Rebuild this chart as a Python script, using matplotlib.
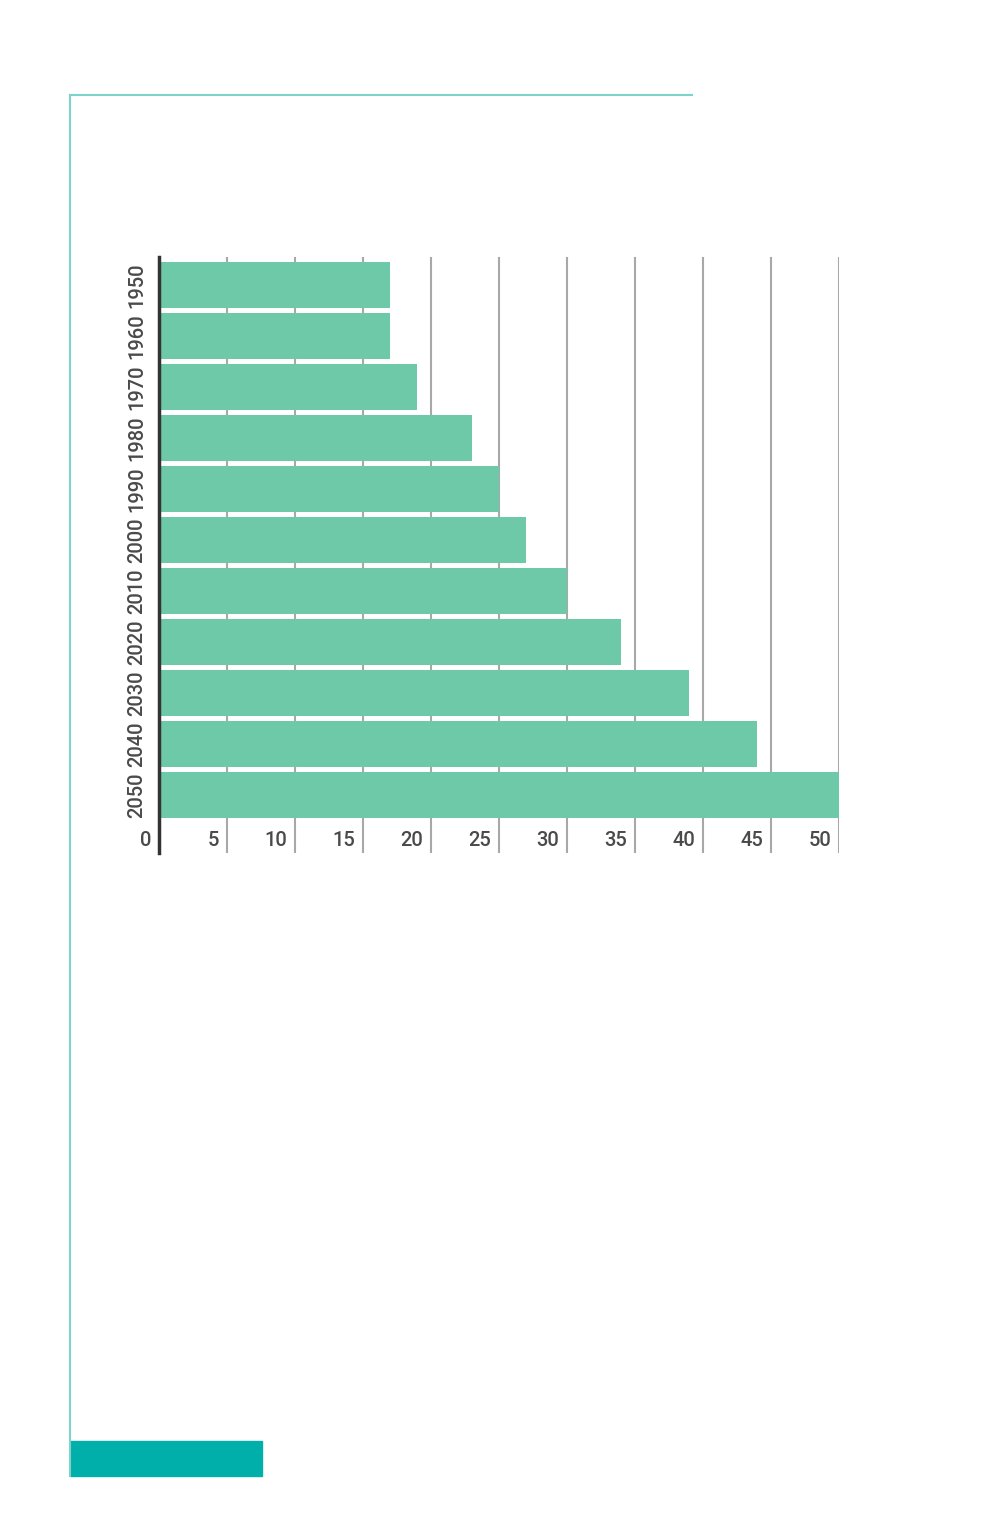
import matplotlib.pyplot as plt
from matplotlib.lines import Line2D
from matplotlib.patches import Rectangle
import matplotlib.transforms as mtransforms

plt.rcParams['font.family'] = ['Roboto', 'DejaVu Sans']

years = ['1950', '1960', '1970', '1980', '1990', '2000',
         '2010', '2020', '2030', '2040', '2050']
values = [17, 17, 19, 23, 25, 27, 30, 34, 39, 44, 50]
xticks = [0, 5, 10, 15, 20, 25, 30, 35, 40, 45, 50]

W, H = 995, 1537
fig = plt.figure(figsize=(W / 100, H / 100), dpi=100)

# axes in pixel box: left 159, right 839, top 257, bottom 853
ax = fig.add_axes([159 / W, 1 - 853 / H, (839 - 159) / W, (853 - 257) / H])

bar_color = '#6dc9a8'
label_color = '#4a4a4a'
pos = list(range(len(years)))
ax.barh(pos, values, height=0.9, color=bar_color, zorder=3)

ax.set_xlim(0, 50)
row_px = 51.0
top = -0.5 - 2.5 / row_px
ax.set_ylim(top + (853 - 257) / row_px, top)

ax.set_xticks(xticks)
ax.xaxis.grid(True, color='#a8a8a8', linewidth=1.5, zorder=0)
ax.tick_params(axis='x', length=0, labelbottom=False)

ax.set_yticks(pos)
ax.set_yticklabels(years, rotation=90, va='center', ha='right', fontweight='medium')
ax.tick_params(axis='y', length=0, pad=9, labelsize=14.5, labelcolor=label_color)

for s in ['top', 'right', 'bottom']:
    ax.spines[s].set_visible(False)
ax.spines['left'].set_color('#333333')
ax.spines['left'].set_linewidth(2.5)
ax.spines['left'].set_zorder(5)

# x tick labels sit just left of each grid line near the bottom
trans = mtransforms.blended_transform_factory(ax.transData, ax.transAxes)
offset = mtransforms.ScaledTranslation(-8 / 100, 0, fig.dpi_scale_trans)
for t in xticks:
    ax.text(t, (853 - 841) / (853 - 257), str(t), transform=trans + offset,
            ha='right', va='center', fontsize=14.5, fontweight='medium',
            color=label_color)

# decorative frame
frame_color = '#7dd3cb'
fig.add_artist(Line2D([70 / W, 692 / W], [1 - 95 / H, 1 - 95 / H],
                      color=frame_color, linewidth=1.5))
fig.add_artist(Line2D([70 / W, 70 / W], [1 - 95 / H, 1 - 1476 / H],
                      color=frame_color, linewidth=1.5))
fig.add_artist(Rectangle((70 / W, 1 - 1476 / H), (262 - 70) / W, (1476 - 1441) / H,
                         color='#00aeaa', transform=fig.transFigure))

fig.savefig('out.png', dpi=100)
